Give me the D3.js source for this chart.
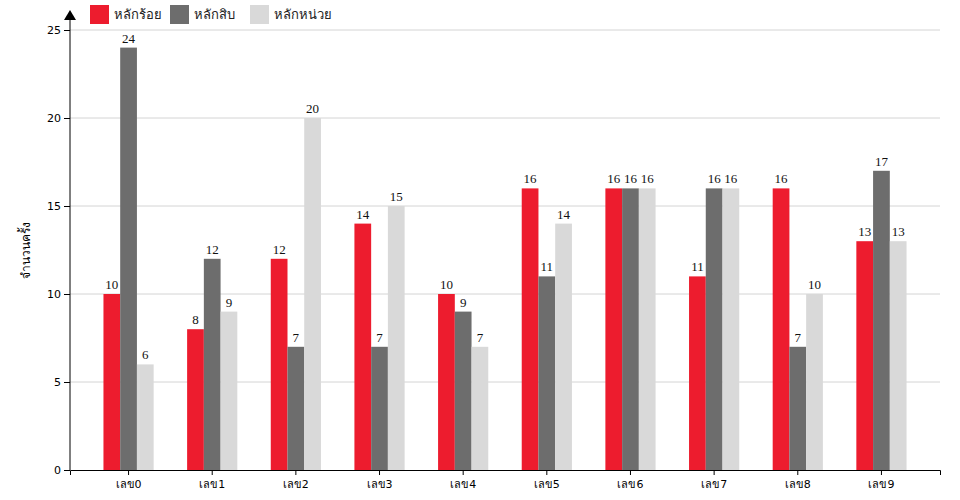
<!DOCTYPE html>
<html><head><meta charset="utf-8">
<script src="https://cdn.jsdelivr.net/npm/d3@7"></script>
<style>body{margin:0;background:#fff}</style>
</head><body>
<svg id="c" width="960" height="500"></svg>
<script>
const categories = ["เลข0","เลข1","เลข2","เลข3","เลข4","เลข5","เลข6","เลข7","เลข8","เลข9"];
const seriesNames = ["หลักร้อย","หลักสิบ","หลักหน่วย"];
const hundreds = [10,8,12,14,10,16,16,11,16,13];
const tens = [24,12,7,7,9,11,16,16,7,17];
const units = [6,9,20,15,7,14,16,16,10,13];
const yTicks = [0,5,10,15,20,25];
const colors = ["#ED1C2E","#6D6D6D","#D9D9D9"];
const yLabel = "จำนวนครั้ง";

(function(){
const series = [hundreds, tens, units];
const svg = d3.select("#c");
const mL = 70, mR = 940, mT = 30, mB = 470;
const x = d3.scaleBand().domain(categories).range([mL, mR]).paddingInner(0.4).paddingOuter(0.4);
const xs = d3.scaleBand().domain(d3.range(3)).range([0, x.bandwidth()]);
const y = d3.scaleLinear().domain([0,25]).range([mB, mT]);

// grid
svg.append("g").selectAll("line").data(yTicks.filter(d=>d>0)).join("line")
  .attr("x1", mL).attr("x2", mR).attr("y1", d=>y(d)).attr("y2", d=>y(d))
  .attr("stroke", "#d4d4d4").attr("stroke-width", 1);

// bars
const groups = svg.append("g").selectAll("g").data(categories).join("g")
  .attr("transform", d => `translate(${x(d)},0)`);
groups.each(function(cat, i){
  const g = d3.select(this);
  series.forEach((s, k) => {
    g.append("rect").attr("x", xs(k)).attr("width", xs.bandwidth())
      .attr("y", y(s[i])).attr("height", y(0)-y(s[i]))
      .attr("fill", colors[k]);
    g.append("text").attr("x", xs(k)+xs.bandwidth()/2).attr("y", y(s[i])-5)
      .attr("text-anchor","middle").attr("font-family","'Liberation Serif', 'Times New Roman', serif")
      .attr("font-size", 13).attr("fill","#111").text(s[i]);
  });
});

// x axis
const xAxis = svg.append("g").attr("transform", `translate(0,${mB})`)
  .call(d3.axisBottom(x).tickSize(5).tickSizeOuter(5));
xAxis.select(".domain").attr("stroke","#000");
xAxis.selectAll("text").attr("font-family","'DejaVu Sans', 'Noto Sans', sans-serif").attr("font-size", 11).attr("fill","#000").attr("dy","0.9em");

// y axis
const yAxis = svg.append("g").attr("transform", `translate(${mL},0)`)
  .call(d3.axisLeft(y).tickValues(yTicks).tickSize(6).tickSizeOuter(0));
yAxis.select(".domain").remove();
yAxis.selectAll("text").attr("font-family","'DejaVu Sans', 'Noto Sans', sans-serif").attr("font-size", 11).attr("fill","#000");
svg.append("line").attr("x1", mL).attr("x2", mL).attr("y1", mB).attr("y2", 18).attr("stroke","#000");
svg.append("path").attr("d", `M${mL-6},${20} L${mL},${10} L${mL+6},${20} Z`).attr("fill","#000");

svg.append("text").attr("transform", `translate(30,${(mT+mB)/2}) rotate(-90)`)
  .attr("text-anchor","middle").attr("font-family","'Noto Sans', sans-serif").attr("font-size", 12).text(yLabel);

// legend
const lg = svg.append("g").selectAll("g").data(seriesNames).join("g")
  .attr("transform", (d,i) => `translate(${90 + i*80},5)`);
lg.append("rect").attr("width", 19).attr("height", 19).attr("fill", (d,i)=>colors[i]);
lg.append("text").attr("x", 24).attr("y", 14).attr("font-family","'Noto Sans', sans-serif").attr("font-size", 13).attr("fill","#222").text(d=>d);
})();
</script>
</body></html>
